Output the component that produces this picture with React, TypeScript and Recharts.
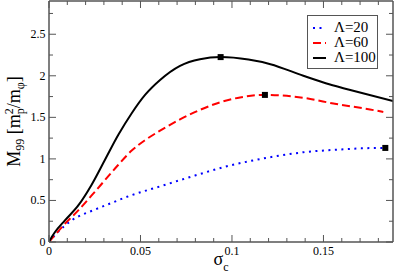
import { ComposedChart, Legend, Line, Scatter, XAxis, YAxis } from 'recharts';

// sigma_c vs M_99 curves for three Lambda values
const sigma20 = [0, 0.0033, 0.0124, 0.0251, 0.0342, 0.0434, 0.0616, 0.0798, 0.0962, 0.1208, 0.139, 0.157, 0.1754, 0.1838];
const m20 = [0, 0.085, 0.26, 0.39, 0.47, 0.55, 0.675, 0.8, 0.905, 1.02, 1.08, 1.11, 1.13, 1.132];

const sigma60 = [0, 0.0033, 0.0087, 0.016, 0.0233, 0.0306, 0.0379, 0.0452, 0.0525, 0.0607, 0.0716, 0.0825, 0.0934, 0.1044, 0.118, 0.139, 0.157, 0.1754, 0.1827];
const m60 = [0, 0.085, 0.22, 0.38, 0.56, 0.745, 0.93, 1.1, 1.225, 1.34, 1.475, 1.59, 1.68, 1.74, 1.77, 1.735, 1.66, 1.595, 1.565];

const sigma100 = [0, 0.0015, 0.0033, 0.0087, 0.016, 0.0233, 0.0306, 0.0379, 0.0452, 0.0525, 0.0607, 0.0716, 0.0825, 0.0938, 0.109, 0.121, 0.139, 0.1536, 0.1636, 0.188];
const m100 = [0, 0.06, 0.12, 0.26, 0.44, 0.69, 0.99, 1.29, 1.55, 1.77, 1.95, 2.12, 2.2, 2.225, 2.195, 2.14, 2.0, 1.895, 1.835, 1.695];

// square markers at the end / maximum of each curve
const markSigma = [0.1838, 0.118, 0.0938];
const markM = [1.132, 1.77, 2.225];

const xMajorTicks = [0, 0.05, 0.1, 0.15];
const xMinorTicks = [0.01, 0.02, 0.03, 0.04, 0.06, 0.07, 0.08, 0.09, 0.11, 0.12, 0.13, 0.14, 0.16, 0.17, 0.18];
const yMajorTicks = [0, 0.5, 1, 1.5, 2, 2.5];
const yMinorTicks = [0.25, 0.75, 1.25, 1.75, 2.25, 2.75];

const xDomain = [0, 0.188];
const yDomain = [0, 2.9];

const AXIS = '#555';
const SERIF = 'Liberation Serif, Times New Roman, Tinos, Nimbus Roman, Times, serif';
const MAJOR = 7;
const MINOR = 4;

const toRows = (xs: number[], ys: number[]) => xs.map((x, i) => ({ x, y: ys[i] }));

const series = [
  { name: 'Λ=20', data: toRows(sigma20, m20), color: '#0000ff', dash: '2 4.5' },
  { name: 'Λ=60', data: toRows(sigma60, m60), color: '#ff0000', dash: '8 4' },
  { name: 'Λ=100', data: toRows(sigma100, m100), color: '#000000', dash: undefined },
];
const markers = toRows(markSigma, markM);

const xTicks = [...xMajorTicks, ...xMinorTicks];
const yTicks = [...yMajorTicks, ...yMinorTicks];

function BottomTick({ x, y, payload }: any) {
  const major = xMajorTicks.includes(payload.value);
  return (
    <g>
      <line x1={x} x2={x} y1={y} y2={y - (major ? MAJOR : MINOR)} stroke={AXIS} />
      {major && (
        <text x={x} y={y + 13} textAnchor="middle" style={{ fontFamily: SERIF, fontSize: 12 }} fill="#000">
          {payload.value}
        </text>
      )}
    </g>
  );
}

function TopTick({ x, y, payload }: any) {
  const major = xMajorTicks.includes(payload.value);
  return <line x1={x} x2={x} y1={y} y2={y + (major ? MAJOR : MINOR)} stroke={AXIS} />;
}

function LeftTick({ x, y, payload }: any) {
  const major = yMajorTicks.includes(payload.value);
  return (
    <g>
      <line x1={x} x2={x + (major ? MAJOR : MINOR)} y1={y} y2={y} stroke={AXIS} />
      {major && (
        <text x={x - 3.5} y={y + 4} textAnchor="end" style={{ fontFamily: SERIF, fontSize: 12 }} fill="#000">
          {payload.value}
        </text>
      )}
    </g>
  );
}

function RightTick({ x, y, payload }: any) {
  const major = yMajorTicks.includes(payload.value);
  return <line x1={x} x2={x - (major ? MAJOR : MINOR)} y1={y} y2={y} stroke={AXIS} />;
}

function YTitle({ viewBox }: any) {
  const cx = viewBox.x + 20;
  const cy = viewBox.y + viewBox.height / 2;
  return (
    <text
      x={cx}
      y={cy}
      transform={`rotate(-90, ${cx}, ${cy})`}
      textAnchor="middle"
      style={{ fontFamily: SERIF, fontSize: 18 }}
      fill="#000"
    >
      M
      <tspan dy={4} fontSize={12}>99</tspan>
      <tspan dy={-4}> [m</tspan>
      <tspan dy={4} fontSize={12}>p</tspan>
      <tspan dy={-11} dx={-6} fontSize={12}>2</tspan>
      <tspan dy={7}>/m</tspan>
      <tspan dy={4} fontSize={12}>φ</tspan>
      <tspan dy={-4}>]</tspan>
    </text>
  );
}

function XTitle({ viewBox }: any) {
  const cx = viewBox.x + viewBox.width / 2;
  return (
    <text x={cx} y={viewBox.y + 23} textAnchor="middle" style={{ fontFamily: SERIF, fontSize: 18 }} fill="#000">
      σ
      <tspan dy={6} fontSize={12}>c</tspan>
    </text>
  );
}

function LegendBox() {
  return (
    <div
      style={{
        boxSizing: 'border-box',
        width: 71,
        border: `1px solid ${AXIS}`,
        background: '#fff',
        padding: '4px 0 3px 4px',
        fontFamily: SERIF,
        fontSize: 15,
        lineHeight: '15px',
        whiteSpace: 'nowrap',
      }}
    >
      {series.map((s) => (
        <div key={s.name} style={{ display: 'flex', alignItems: 'center' }}>
          <svg width={22} height={15}>
            <line
              x1={1}
              x2={14}
              y1={8}
              y2={8}
              stroke={s.color}
              strokeWidth={2}
              strokeDasharray={s.dash}
            />
          </svg>
          <span>{s.name}</span>
        </div>
      ))}
    </div>
  );
}

export default function App() {
  return (
    <div style={{ position: 'absolute', left: 0, top: 0, background: '#fff' }}>
      <ComposedChart width={395} height={273} margin={{ top: 0, right: 0, bottom: 0, left: 0 }}>
        <XAxis
          dataKey="x"
          type="number"
          domain={xDomain}
          allowDataOverflow
          ticks={xTicks}
          interval={0}
          height={31}
          tickSize={0}
          tickMargin={0}
          tickLine={false}
          tick={BottomTick}
          axisLine={{ stroke: AXIS, strokeWidth: 1.5 }}
          label={{ content: XTitle }}
        />
        <XAxis
          xAxisId="top"
          orientation="top"
          dataKey="x"
          type="number"
          domain={xDomain}
          allowDataOverflow
          ticks={xTicks}
          interval={0}
          height={1}
          tickSize={0}
          tickMargin={0}
          tickLine={false}
          tick={TopTick}
          axisLine={{ stroke: AXIS, strokeWidth: 1.5 }}
        />
        <YAxis
          type="number"
          domain={yDomain}
          allowDataOverflow
          ticks={yTicks}
          interval={0}
          width={49}
          tickSize={0}
          tickMargin={0}
          tickLine={false}
          tick={LeftTick}
          axisLine={{ stroke: AXIS, strokeWidth: 1.5 }}
          label={{ content: YTitle }}
        />
        <YAxis
          yAxisId="right"
          orientation="right"
          type="number"
          domain={yDomain}
          allowDataOverflow
          ticks={yTicks}
          interval={0}
          width={2}
          tickSize={0}
          tickMargin={0}
          tickLine={false}
          tick={RightTick}
          axisLine={{ stroke: AXIS, strokeWidth: 1.5 }}
        />
        {series.map((s) => (
          <Line
            key={s.name}
            data={s.data}
            dataKey="y"
            name={s.name}
            type="monotone"
            stroke={s.color}
            strokeWidth={2}
            strokeDasharray={s.dash}
            dot={false}
            activeDot={false}
            isAnimationActive={false}
          />
        ))}
        <Scatter
          data={markers}
          dataKey="y"
          legendType="none"
          isAnimationActive={false}
          shape={(p: any) => <rect x={p.cx - 3} y={p.cy - 3} width={6} height={6} fill="#000" />}
        />
        <Legend
          layout="horizontal"
          verticalAlign="middle"
          align="center"
          content={LegendBox}
          wrapperStyle={{ left: 307, top: 15, width: 'auto', height: 'auto' }}
        />
      </ComposedChart>
    </div>
  );
}
